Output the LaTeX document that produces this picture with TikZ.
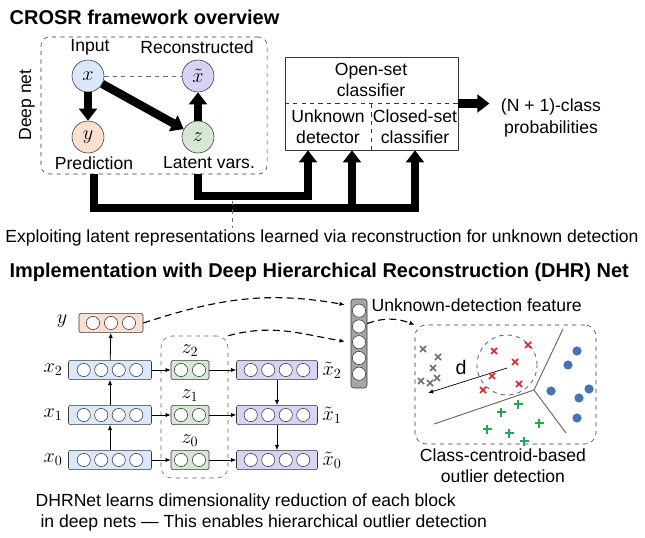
\documentclass[tikz,border=0pt]{standalone}
\usepackage{fontspec}
\setmainfont{Liberation Sans}
\usetikzlibrary{arrows.meta,positioning,calc,fit}
\definecolor{inpcol}{RGB}{218,232,252}
\definecolor{predcol}{RGB}{251,224,207}
\definecolor{latcol}{RGB}{213,232,212}
\definecolor{reccol}{RGB}{217,210,245}
\definecolor{edgecol}{RGB}{55,55,55}
\definecolor{featcol}{RGB}{165,165,165}
\definecolor{voronoicol}{RGB}{115,105,95}
\definecolor{ringcol}{RGB}{80,105,140}
\definecolor{redcol}{RGB}{230,30,40}
\definecolor{greencol}{RGB}{30,170,80}
\definecolor{bluecol}{RGB}{70,115,180}
\definecolor{greycol}{RGB}{110,110,110}

\begin{document}
\begin{tikzpicture}[x=0.025cm, y=-0.025cm,
    >={Latex[length=1.3mm,width=1.1mm]},
    lbl/.style={font=\fontsize{12.5}{15}\selectfont, align=center, inner sep=1pt},
    mathlbl/.style={font=\fontsize{14}{15}\selectfont, inner sep=1pt},
    head/.style={font=\fontsize{14.2}{16}\selectfont\bfseries, anchor=west, inner sep=1pt},
    var/.style={circle, draw=edgecol, minimum size=0.8cm, inner sep=0pt, font=\fontsize{14}{15}\selectfont},
    fat/.style={line width=2.1mm, -{Triangle[length=3mm,width=4.4mm]}},
    layer/.style={draw=edgecol, rounded corners=1.5pt, minimum height=0.48cm, inner sep=0pt},
    unit/.style={circle, draw=edgecol, fill=white, minimum size=0.33cm, inner sep=0pt},
    thin/.style={->, line width=0.6pt},
    skip/.style={->, dash pattern=on 5pt off 3pt, line width=0.8pt},
]
\useasboundingbox (0,0) rectangle (645,538);

% --- overview ---
\node[head] (title1) at (8,17) {CROSR framework overview};

\node[draw=edgecol, dashed, rounded corners=6pt, minimum width=5.65cm, minimum height=3.425cm] (deepnet) at (154,105.5) {};
\node[lbl, rotate=90] (dnlbl) at (27,105) {Deep net};
\node[var, fill=inpcol] (x) at (88,76) {$x$};
\node[var, fill=reccol] (xr) at (198,76) {$\tilde{x}$};
\node[var, fill=predcol] (y) at (88,137) {$y$};
\node[var, fill=latcol] (z) at (198,137) {$z$};
\node[lbl] (inlbl) at (90,47) {Input};
\node[lbl] (reclbl) at (197,47) {Reconstructed};
\node[lbl] (pred) at (94,163) {Prediction};
\node[lbl] (latlbl) at (209,163) {Latent vars.};
\draw[greycol, dashed, line width=0.5pt] (x) -- (xr);
\draw[fat] (x) -- (y);
\draw[fat] (x) -- (z);
\draw[fat] (z) -- (xr);

\node[draw=edgecol, minimum width=4.325cm, minimum height=2.325cm] (osc) at (371.5,103.5) {};
\draw[edgecol, dashed] (osc.west) -- (osc.east);
\draw[edgecol, dashed] (osc.south) -- (osc.center);
\node[lbl] (osclbl) at (371,80) {Open-set\\classifier};
\node[lbl] (unk) at (328,127) {Unknown\\detector};
\node[lbl] (closed) at (415,127) {Closed-set\\classifier};
\node[lbl] (prob) at (551,118) {(N + 1)-class\\probabilities};
\draw[fat, shorten >=7pt] (osc.east) -- (osc.east -| prob.west);

\coordinate (footA) at ($(unk.south)+(-20,0)$);
\coordinate (footB) at ($(unk.south)+(24,0)$);
\draw[fat] (pred |- deepnet.south) |- (closed |- 0,208) -- (closed |- osc.south);
\draw[fat] (footB |- 0,208) -- (footB |- osc.south);
\draw[fat] (z |- deepnet.south) |- (footA |- 0,196) -- (footA |- osc.south);

\node[lbl] (exploit) at (322,238) {Exploiting latent representations learned via reconstruction for unknown detection};
\coordinate (tap) at (232,201);
\draw[greycol, dashed, line width=0.5pt] (tap) -- (tap |- exploit.north);

% --- DHR net ---
\node[head] (title2) at (8,272) {Implementation with Deep Hierarchical Reconstruction (DHR) Net};

\node[draw=edgecol!80, dashed, rounded corners=8pt, minimum width=1.675cm, minimum height=3.55cm] (zgroup) at (194.5,407) {};

\foreach \i/\yy in {0/460,1/415,2/370} {
    \node[layer, fill=inpcol, minimum width=2.075cm] (x\i) at (110,\yy) {};
    \node[layer, fill=latcol, minimum width=0.95cm] (z\i) at (190,\yy) {};
    \node[layer, fill=reccol, minimum width=2.025cm] (r\i) at (277,\yy) {};
    \foreach \k in {1,...,4} {
        \node[unit] (x\i-\k) at ($(x\i)+({(\k-2.5)*17.5},0)$) {};
        \node[unit] (r\i-\k) at ($(r\i)+({(\k-2.5)*17.5},0)$) {};
    }
    \foreach \k in {1,2} {
        \node[unit] (z\i-\k) at ($(z\i)+({(\k-1.5)*18},0)$) {};
    }
    \node[mathlbl] (xl\i) at (53,\yy) {$x_\i$};
    \node[mathlbl] (rl\i) at (332,\yy) {$\tilde{x}_\i$};
    \node[mathlbl] (zl\i) at (190,{\yy-19}) {$z_\i$};
    \draw[thin] (x\i) -- (z\i);
    \draw[thin] (z\i) -- (r\i);
}
\node[layer, fill=predcol, minimum width=1.6cm] (yb) at (111,323) {};
\foreach \k in {1,2,3} {
    \node[unit] (yb-\k) at ($(yb)+({(\k-2)*18},0)$) {};
}
\node[mathlbl] (ylbl) at (62,321) {$y$};
\draw[thin] (x0) -- (x1);
\draw[thin] (x1) -- (x2);
\draw[thin] (x2) -- (yb);
\draw[thin] (r2) -- (r1);
\draw[thin] (r1) -- (r0);

\node[draw=edgecol, fill=featcol, rounded corners=2pt, minimum width=0.4cm, minimum height=2.225cm] (feat) at (359,343.5) {};
\foreach \k in {1,...,5} {
    \node[unit] (feat-\k) at ($(feat.north)+(0,{12+(\k-1)*15.75})$) {};
}
\node[lbl, anchor=west] (featlbl) at (370,305) {Unknown-detection feature};

\node[draw=edgecol, dashed, rounded corners=8pt, minimum width=4.525cm, minimum height=2.975cm] (outl) at (505.5,384.5) {};
\node[lbl] (outlbl) at (503,466) {Class-centroid-based\\outlier detection};

\draw[skip] (yb.east) to[out=18, in=170] ($(feat.north west)+(-6,6)$);
\draw[skip] (zgroup.north east) to[out=15, in=170] ($(feat.west)+(-6,-2)$);
\draw[skip] ($(feat.east)+(0,-20)$) to[out=20, in=160] (outl.north west);

% outlier scene
\draw[ringcol, dashed, line width=0.6pt] (507,365) circle[radius=0.75cm];
\coordinate (junc) at (534,390);
\draw[voronoicol, line width=0.7pt] (junc) -- (563,329) (junc) -- (566,433) (junc) -- (434,424);
\coordinate (centroid) at (507,368);
\coordinate (far) at (428,393);
\draw[->, line width=0.5pt] (centroid) -- (far);
\node[lbl, font=\fontsize{14}{15}\selectfont] (dlbl) at (461,367) {d};
\foreach \px/\py in {494/351,528/345,515/362,492/376,519/384,483/390} {
    \draw[redcol, line width=1.2pt] (\px,\py) +(-3,-3) -- +(3,3) +(-3,3) -- +(3,-3);
}
\foreach \px/\py in {423/349,438/357,433/368,437/378,421/381,430/383} {
    \draw[greycol, line width=1.2pt] (\px,\py) +(-3,-3) -- +(3,3) +(-3,3) -- +(3,-3);
}
\foreach \px/\py in {518/404,501/412,487/429,509/433,539/423,524/441} {
    \draw[greencol, line width=1.4pt] (\px,\py) +(-4.5,0) -- +(4.5,0) +(0,-4.5) -- +(0,4.5);
}
\foreach \px/\py in {577/351,568/365,551/391,579/398,589/389,577/418} {
    \fill[bluecol] (\px,\py) circle[radius=0.115cm];
}

\node[lbl, anchor=west, align=left] (summary) at (34,512) {DHRNet learns dimensionality reduction of each block\\ \ in deep nets — This enables hierarchical outlier detection};
\end{tikzpicture}
\end{document}
